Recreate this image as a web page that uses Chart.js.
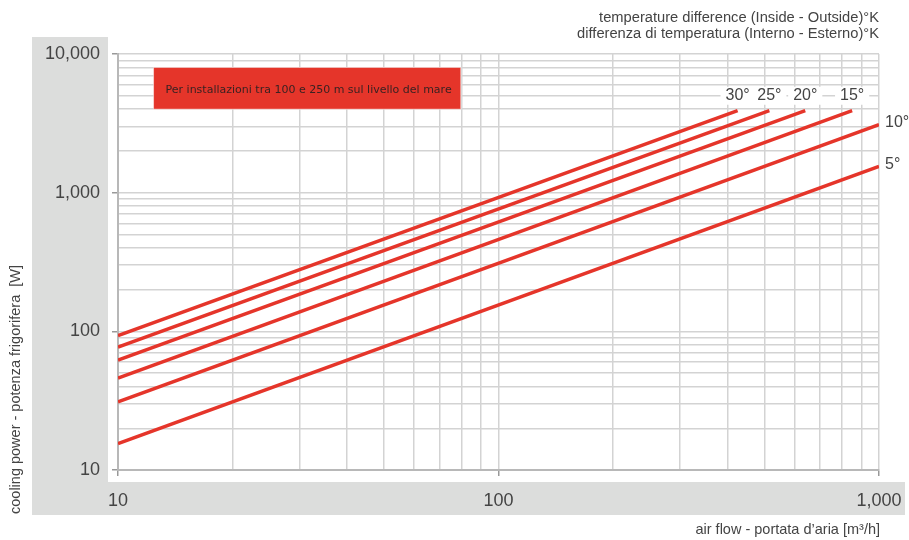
<!DOCTYPE html>
<html>
<head>
<meta charset="utf-8">
<script src="https://cdn.jsdelivr.net/npm/chart.js@4.4.1/dist/chart.umd.min.js"></script>
<style>
  html, body { margin: 0; padding: 0; background: #fff; }
  #wrap { width: 909px; height: 540px; }
</style>
</head>
<body>
<div id="wrap"><canvas id="chart" width="909" height="540"></canvas></div>
<script>
// temperature difference curves (cooling power vs air flow)
const tempLabels = ['5°', '10°', '15°', '20°', '25°', '30°'];
const flowStart = [10, 10, 10, 10, 10, 10];
const flowEnd = [1000, 1000, 850, 640, 515, 425];
const powerStart = [15.5, 31, 46, 62, 77, 93];
const powerEnd = [1550, 3100, 3900, 3900, 3900, 3900];

const xTickValues = [10, 20, 30, 40, 50, 60, 70, 80, 90, 100, 200, 300, 400, 500, 600, 700, 800, 900, 1000];
const yTickValues = [10, 20, 30, 40, 50, 60, 70, 80, 90, 100, 200, 300, 400, 500, 600, 700, 800, 900,
                     1000, 2000, 3000, 4000, 5000, 6000, 7000, 8000, 9000, 10000];

const topTitle = ['temperature difference (Inside - Outside)°K', 'differenza di temperatura (Interno - Esterno)°K'];
const yTitle = 'cooling power - potenza frigorifera  [W]';
const xTitle = 'air flow - portata d\u2019aria [m³/h]';
const noteText = 'Per installazioni tra 100 e 250 m sul livello del mare';
const noteX = [12.4, 79.6];
const noteY = [8000, 4000];
const labelRowValue = 5000;

const RED = '#e5352a';
const GRID = '#d3d3d3';
const TEXT = '#444';
const FONT = '"Liberation Sans", Arial, sans-serif';

const isDecade = v => Math.abs(Math.log10(v) - Math.round(Math.log10(v))) < 1e-9;

// fondo grigio e riquadro nota
const backgroundPlugin = {
    id: 'background',
    beforeDraw: (chart) => {
        const { ctx } = chart;
        ctx.save();
        ctx.fillStyle = '#fff';
        ctx.fillRect(0, 0, chart.width, chart.height);
        ctx.fillStyle = '#dcdddc';
        ctx.fillRect(32, 37, 76, 478);
        ctx.fillRect(32, 482, 873, 33);
        ctx.fillStyle = '#fff';
        ctx.fillRect(108, 37, 797, 445);
        ctx.restore();
    },
    beforeDatasetsDraw: (chart) => {
        const { ctx, scales: { x, y } } = chart;
        const x0 = x.getPixelForValue(noteX[0]), x1 = x.getPixelForValue(noteX[1]);
        const y0 = y.getPixelForValue(noteY[0]), y1 = y.getPixelForValue(noteY[1]);
        ctx.save();
        ctx.fillStyle = RED;
        ctx.fillRect(x0, y0, x1 - x0, y1 - y0);
        ctx.strokeStyle = 'rgba(255,255,255,0.5)';
        ctx.lineWidth = 1;
        ctx.strokeRect(x0, y0, x1 - x0, y1 - y0);
        ctx.fillStyle = '#3a2222';
        ctx.font = '11px "DejaVu Sans", Verdana, sans-serif';
        ctx.textBaseline = 'middle';
        ctx.fillText(noteText, x0 + 12, (y0 + y1) / 2 + 2);
        ctx.restore();
    }
};

// etichette delle curve e titoli
const labelsPlugin = {
    id: 'curveLabels',
    afterDatasetsDraw: (chart) => {
        const { ctx, scales: { y } } = chart;
        ctx.save();
        ctx.font = '16px ' + FONT;
        ctx.fillStyle = TEXT;
        ctx.textBaseline = 'middle';
        chart.data.datasets.forEach((ds, i) => {
            const last = chart.getDatasetMeta(i).data[1];
            const label = tempLabels[i];
            if (flowEnd[i] < 1000) {
                const ly = y.getPixelForValue(labelRowValue);
                const w = ctx.measureText(label).width;
                ctx.fillStyle = '#fff';
                ctx.fillRect(last.x - w / 2 - 5, ly - 9, w + 10, 18);
                ctx.fillStyle = TEXT;
                ctx.textAlign = 'center';
                ctx.fillText(label, last.x, ly);
            } else {
                ctx.textAlign = 'left';
                ctx.fillText(label, last.x + 6, last.y - 2);
            }
        });
        ctx.restore();
    },
    afterDraw: (chart) => {
        const { ctx, chartArea } = chart;
        ctx.save();
        ctx.fillStyle = TEXT;
        ctx.textBaseline = 'middle';
        ctx.textAlign = 'right';
        ctx.font = '14.7px ' + FONT;
        ctx.fillText(topTitle[0], chartArea.right, 18);
        ctx.fillText(topTitle[1], chartArea.right, 34);
        ctx.font = '14.5px ' + FONT;
        ctx.fillText(xTitle, chartArea.right + 1, 530);
        ctx.translate(16, 514);
        ctx.rotate(-Math.PI / 2);
        ctx.textAlign = 'left';
        ctx.fillText(yTitle, 0, 0);
        ctx.restore();
    }
};

const datasets = tempLabels.map((label, i) => ({
    label: label,
    data: [{ x: flowStart[i], y: powerStart[i] }, { x: flowEnd[i], y: powerEnd[i] }],
    borderColor: RED,
    borderWidth: 3.5,
    pointRadius: 0,
    fill: false,
    tension: 0
}));

const tickColor = (ctx) => (ctx.tick && isDecade(ctx.tick.value)) ? '#999' : 'rgba(0,0,0,0)';

new Chart(document.getElementById('chart'), {
    type: 'line',
    data: { datasets: datasets },
    options: {
        responsive: false,
        devicePixelRatio: 1,
        animation: false,
        layout: { padding: { left: 0, top: 54, right: 30, bottom: 0 } },
        plugins: {
            legend: { display: false },
            tooltip: { enabled: false },
            title: { display: false }
        },
        scales: {
            x: {
                type: 'logarithmic',
                min: 10,
                max: 1000,
                afterBuildTicks: (scale) => { scale.ticks = xTickValues.map(v => ({ value: v })); },
                afterFit: (scale) => { scale.height = 70; scale.paddingLeft = 0; scale.paddingRight = 0; },
                ticks: {
                    autoSkip: false,
                    maxRotation: 0,
                    padding: 14,
                    color: TEXT,
                    font: { family: FONT, size: 18 },
                    callback: (v) => isDecade(v) ? Number(v).toLocaleString('en-US') : ''
                },
                grid: { color: GRID, lineWidth: 1.5, tickLength: 6, tickColor: tickColor, tickWidth: 1.5 },
                border: { color: '#b8b8b8', width: 2 }
            },
            y: {
                type: 'logarithmic',
                min: 10,
                max: 10000,
                afterBuildTicks: (scale) => { scale.ticks = yTickValues.map(v => ({ value: v })); },
                afterFit: (scale) => { scale.width = 118; },
                ticks: {
                    autoSkip: false,
                    padding: 12,
                    color: TEXT,
                    font: { family: FONT, size: 18 },
                    callback: (v) => isDecade(v) ? Number(v).toLocaleString('en-US') : ''
                },
                grid: { color: GRID, lineWidth: 1.5, tickLength: 6, tickColor: tickColor, tickWidth: 1.5 },
                border: { color: '#b8b8b8', width: 2 }
            }
        }
    },
    plugins: [backgroundPlugin, labelsPlugin]
});
</script>
</body>
</html>
